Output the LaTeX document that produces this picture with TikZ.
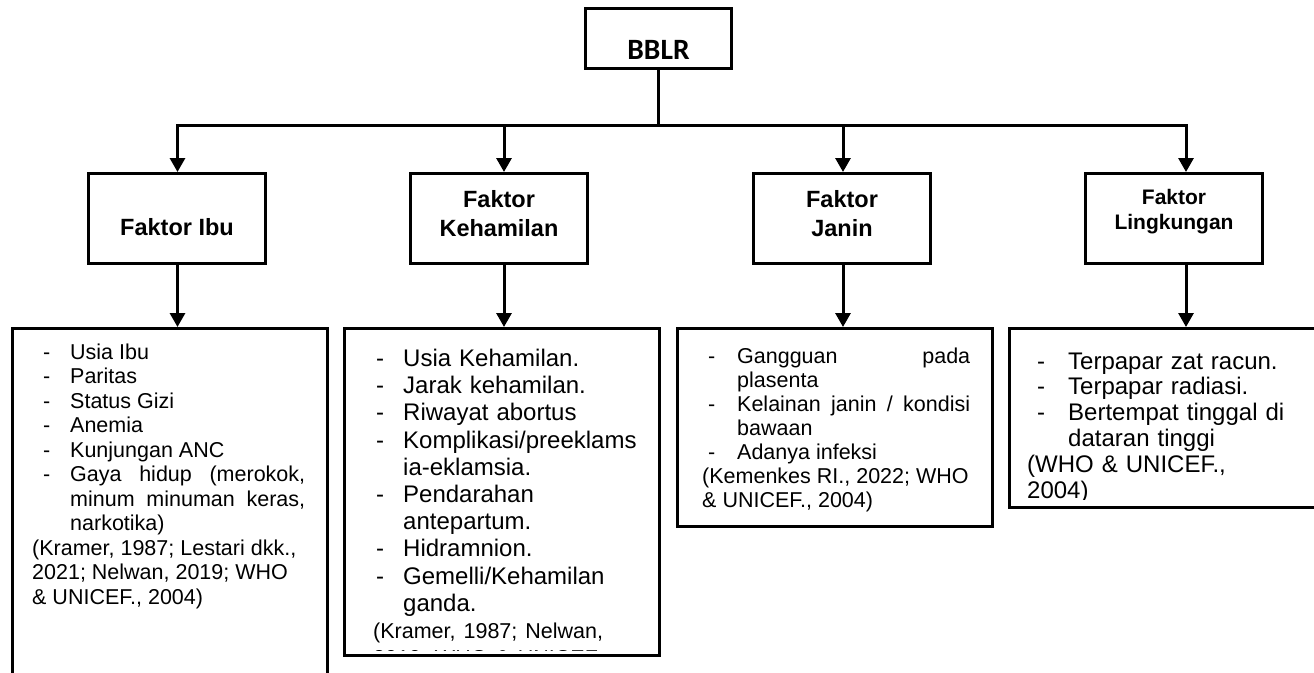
\documentclass[tikz,border=0pt]{standalone}
\usepackage{fontspec}
\setmainfont{Liberation Sans}
\newfontfamily\calibrifont{Carlito}
\usetikzlibrary{arrows.meta}

\newlength{\dashoff}
\newlength{\itemoff}
\newcommand{\litem}[1]{\par\noindent\hangindent=\itemoff\hangafter=1\makebox[\itemoff][l]{\hspace*{\dashoff}-}#1}

\begin{document}
\begin{tikzpicture}[
        x=1pt, y=-1pt,
        rootbox/.style={rectangle, draw=black, line width=3pt, minimum width=146pt, minimum height=60pt},
        headbox/.style={rectangle, draw=black, line width=3pt, minimum width=177pt, minimum height=90pt},
        listbox/.style={rectangle, draw=black, line width=3pt, minimum width=315pt},
        headtext/.style={inner sep=0pt, align=center, font=\fontsize{23.5pt}{29pt}\selectfont\bfseries},
        listtext/.style={inner sep=0pt, anchor=north west, align=justify},
        line/.style={line width=3pt},
        arrow/.style={line width=3pt, -{Triangle[width=15pt,length=14pt]}}
    ]
    \useasboundingbox (0,0) rectangle (1314,672);

    % Top box
    \node[rootbox] (bblr) at (658.5,38.5) {};
    \node[inner sep=0pt, font=\calibrifont\fontsize{29.5pt}{32pt}\selectfont\bfseries] (bblr-t) at (658.5,49.5) {BBLR};

    % Factor boxes
    \node[headbox] (ibu) at (177,218.5) {};
    \node[headbox] (keh) at (499,218.5) {};
    \node[headbox] (jan) at (842,218.5) {};
    \node[headbox] (ling) at (1174,218.5) {};
    \node[headtext] (ibu-t) at (177,227) {Faktor Ibu};
    \node[headtext] (keh-t) at (499,213.5) {Faktor\\Kehamilan};
    \node[headtext] (jan-t) at (842,213.5) {Faktor\\Janin};
    \node[headtext, font=\fontsize{21pt}{25pt}\selectfont\bfseries] (ling-t) at (1174,211.7) {Faktor\\Lingkungan};

    % Drop points on the trunk line
    \coordinate (d1) at (177.5,125);
    \coordinate (d2) at (504,125);
    \coordinate (d3) at (843,125);
    \coordinate (d4) at (1186,125);

    % List boxes
    \node[listbox, minimum height=371.5pt] (ibu-list) at (169.5,514.25) {};
    \node[listbox, minimum height=327pt] (keh-list) at (502,492) {};
    \node[listbox, minimum height=198pt] (jan-list) at (835,427.5) {};
    \node[listbox, minimum height=179pt] (ling-list) at (1167,418) {};

    % List texts
    \node[listtext, text width=273pt, font=\fontsize{21.5pt}{24.5pt}\selectfont] (ibu-text) at (32,334.5) {%
        \setlength{\dashoff}{11pt}\setlength{\itemoff}{38pt}%
        \litem{Usia Ibu}
        \litem{Paritas}
        \litem{Status Gizi}
        \litem{Anemia}
        \litem{Kunjungan ANC}
        \litem{Gaya hidup (merokok,\linebreak minum minuman keras,\linebreak narkotika)}
        \par\noindent (Kramer, 1987; Lestari dkk.,\newline 2021; Nelwan, 2019; WHO\newline \& UNICEF., 2004)
    };
    \begin{scope}
        \clip (343,327) rectangle (661,650.5);
        \node[listtext, align=left, text width=272pt, font=\fontsize{24pt}{27.2pt}\selectfont] (keh-text) at (373,339) {%
            \setlength{\dashoff}{3pt}\setlength{\itemoff}{30pt}%
            \litem{Usia Kehamilan.}
            \litem{Jarak kehamilan.}
            \litem{Riwayat abortus}
            \litem{Komplikasi/preeklams\newline ia-eklamsia.}
            \litem{Pendarahan\newline antepartum.}
            \litem{Hidramnion.}
            \litem{Gemelli/Kehamilan\newline ganda.}
            \par\fontsize{21.5pt}{23.5pt}\selectfont\noindent (Kramer, 1987; Nelwan,\newline 2019; WHO \& UNICEF., 2004)
        };
    \end{scope}
    \node[listtext, text width=268pt, font=\fontsize{21.5pt}{24pt}\selectfont] (jan-text) at (702,339.5) {%
        \setlength{\dashoff}{6pt}\setlength{\itemoff}{35pt}%
        \litem{Gangguan pada\linebreak plasenta}
        \litem{Kelainan janin / kondisi\linebreak bawaan}
        \litem{Adanya infeksi}
        \par\noindent (Kemenkes RI., 2022; WHO\newline \& UNICEF., 2004)
    };
    \begin{scope}
        \clip (1008,327) rectangle (1314,499);
        \node[listtext, align=left, text width=263pt, font=\fontsize{24pt}{25.8pt}\selectfont] (ling-text) at (1027,343) {%
            \setlength{\dashoff}{10pt}\setlength{\itemoff}{41pt}%
            \litem{Terpapar zat racun.}
            \litem{Terpapar radiasi.}
            \litem{Bertempat tinggal di\newline dataran tinggi}
            \par\noindent (WHO \& UNICEF.,\newline 2004)
        };
    \end{scope}

    % Connectors
    \draw[line] (bblr.south) -- (bblr.south |- d1);
    \draw[arrow] (bblr.south |- d1) -- (d1) -- (d1 |- ibu.north);
    \draw[arrow] (bblr.south |- d1) -- (d4) -- (d4 |- ling.north);
    \draw[arrow] (d2) -- (d2 |- keh.north);
    \draw[arrow] (d3) -- (d3 |- jan.north);
    \draw[arrow] (d1 |- ibu.south) -- (d1 |- ibu-list.north);
    \draw[arrow] (d2 |- keh.south) -- (d2 |- keh-list.north);
    \draw[arrow] (d3 |- jan.south) -- (d3 |- jan-list.north);
    \draw[arrow] (d4 |- ling.south) -- (d4 |- ling-list.north);

\end{tikzpicture}
\end{document}
